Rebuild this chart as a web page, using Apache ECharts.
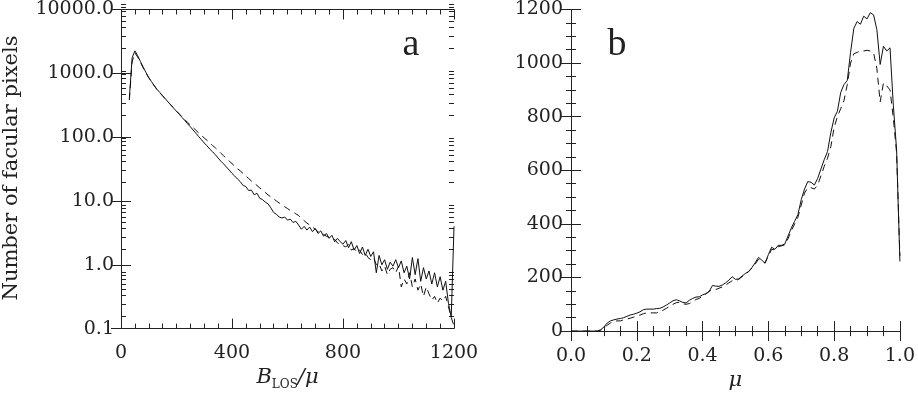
<!DOCTYPE html>
<html>
<head>
<meta charset="UTF-8">
<script src="https://cdn.jsdelivr.net/npm/echarts@6/dist/echarts.min.js"></script>
</head>
<body style="margin:0;background:#fff;">
<div id="chart" style="width:918px;height:396px;"></div>
<script>
// panel a: histogram of B_LOS/mu (log scale)
var bx = [30, 40, 50, 60, 70, 80, 90, 100, 110, 120,
    130, 140, 150, 160, 170, 180, 190, 200, 210, 220,
    230, 240, 250, 260, 270, 280, 290, 300, 310, 320,
    330, 340, 350, 360, 370, 380, 390, 400, 410, 420,
    430, 440, 450, 460, 470, 480, 490, 500, 510, 520,
    530, 540, 550, 560, 570, 580, 590, 600, 610, 620,
    630, 640, 650, 660, 670, 680, 690, 700, 710, 720,
    730, 740, 750, 760, 770, 780, 790, 800, 810, 820,
    830, 840, 850, 860, 870, 880, 890, 900, 910, 920,
    930, 940, 950, 960, 970, 980, 990, 1000, 1010, 1020,
    1030, 1040, 1050, 1060, 1070, 1080, 1090, 1100, 1110, 1120,
    1130, 1140, 1150, 1160, 1170, 1180, 1190, 1200];
var solidA = [400, 1750, 2250, 1900, 1530, 1250, 1030, 860, 740, 640,
    560, 500, 445, 398, 355, 318, 284, 254, 228, 204,
    182, 162, 145, 129, 115, 102, 91, 81, 73, 65,
    59, 53, 47, 42, 38, 34, 30.5, 27, 24.5, 22,
    20, 17.5, 16.8, 14.6, 14.8, 12.5, 13.2, 11.0, 10.5, 9.6,
    9.0, 7.8, 6.6, 6.2, 5.6, 5.4, 5.6, 5.0, 5.2, 4.6,
    4.8, 4.2, 3.6, 4.0, 3.5, 3.9, 3.3, 3.7, 3.1, 3.4,
    2.8, 3.1, 2.6, 2.9, 2.3, 2.6, 2.3, 2.1, 2.4, 1.85,
    2.3, 1.7, 2.0, 1.5, 1.9, 1.4, 1.75, 1.35, 1.6, 0.75,
    1.4, 1.0, 1.2, 0.85, 1.1, 0.95, 1.2, 0.9, 1.15, 0.75,
    0.95, 0.6, 1.3, 0.7, 1.25, 0.55, 0.9, 0.6, 0.8, 0.5,
    0.75, 0.45, 0.65, 0.4, 0.55, 0.25, 0.15, 4.0];
var dashedA = [380, 1500, 2100, 1800, 1480, 1220, 1010, 850, 730, 635,
    555, 495, 442, 396, 354, 318, 285, 256, 231, 208,
    188, 170, 155, 141, 128, 116, 106, 97, 89, 81,
    74, 68, 62, 56, 51, 46, 42, 38.5, 35, 32,
    29.5, 27, 24.5, 22.5, 20.5, 19, 17.5, 16, 14.8, 13.6,
    12.4, 11.6, 10.8, 10.0, 9.3, 8.7, 8.1, 7.6, 7.1, 6.7,
    6.3, 5.9, 5.4, 4.9, 4.5, 4.2, 3.9, 3.6, 3.3, 3.2,
    3.0, 2.8, 2.7, 2.5, 2.5, 2.2, 2.1, 2.0, 1.9, 2.1,
    1.7, 1.8, 1.55, 1.7, 1.45, 1.55, 1.3, 1.2, 1.3, 1.0,
    1.05, 0.8, 0.95, 0.7, 0.85, 0.9, 0.75, 0.95, 0.45, 0.6,
    0.5, 0.75, 0.45, 0.6, 0.4, 0.5, 0.32, 0.45, 0.35, 0.28,
    0.32, 0.25, 0.3, 0.27, 0.32, 0.22, 0.15, 0.11];
var logMinor = [0.2, 0.3, 0.4, 0.5, 0.6, 0.7, 0.8, 0.9,
    2, 3, 4, 5, 6, 7, 8, 9,
    20, 30, 40, 50, 60, 70, 80, 90,
    200, 300, 400, 500, 600, 700, 800, 900,
    2000, 3000, 4000, 5000, 6000, 7000, 8000, 9000];

// panel b: distribution over mu
var mu = [0.00, 0.01, 0.02, 0.03, 0.04, 0.05, 0.06, 0.07, 0.08, 0.09,
    0.10, 0.11, 0.12, 0.13, 0.14, 0.15, 0.16, 0.17, 0.18, 0.19,
    0.20, 0.21, 0.22, 0.23, 0.24, 0.25, 0.26, 0.27, 0.28, 0.29,
    0.30, 0.31, 0.32, 0.33, 0.34, 0.35, 0.36, 0.37, 0.38, 0.39,
    0.40, 0.41, 0.42, 0.43, 0.44, 0.45, 0.46, 0.47, 0.48, 0.49,
    0.50, 0.51, 0.52, 0.53, 0.54, 0.55, 0.56, 0.57, 0.58, 0.59,
    0.60, 0.61, 0.62, 0.63, 0.64, 0.65, 0.66, 0.67, 0.68, 0.69,
    0.70, 0.71, 0.72, 0.73, 0.74, 0.75, 0.76, 0.77, 0.78, 0.79,
    0.80, 0.81, 0.82, 0.83, 0.84, 0.85, 0.86, 0.87, 0.88, 0.89,
    0.90, 0.91, 0.92, 0.93, 0.94, 0.95, 0.96, 0.97, 0.98, 0.99,
    1.00];
var solidB = [0, 0, 0, 0, 0, 0, 0, 0, 0, 5,
    15, 30, 38, 42, 45, 47, 50, 55, 60, 63,
    67, 72, 80, 82, 82, 82, 84, 85, 90, 97,
    105, 113, 117, 113, 107, 105, 115, 122, 127, 128,
    135, 140, 148, 170, 168, 167, 172, 180, 190, 203,
    193, 195, 205, 215, 222, 237, 255, 275, 265, 253,
    285, 313, 305, 320, 320, 325, 355, 385, 410, 435,
    490, 530, 558, 555, 545, 570, 605, 640, 670, 740,
    795, 820, 890, 920, 935, 1040, 1130, 1155, 1145, 1175,
    1165, 1188, 1180, 1125, 995, 1063, 1045, 1057, 843, 676,
    260];
var dashedB = [0, 0, 0, 0, 0, 0, 0, 0, 0, 3,
    10, 22, 30, 36, 38, 38, 42, 45, 48, 52,
    55, 60, 65, 68, 68, 68, 68, 72, 78, 85,
    92, 100, 106, 108, 102, 100, 103, 110, 118, 122,
    130, 138, 148, 155, 155, 160, 165, 172, 180, 188,
    188, 193, 203, 212, 222, 235, 250, 268, 262, 255,
    280, 305, 303, 315, 318, 322, 345, 375, 400, 425,
    470, 515, 535, 535, 530, 545, 580, 615, 645, 688,
    760, 800, 830, 860, 920, 1000, 1035, 1040, 1045, 1045,
    1048, 1045, 1038, 980, 855, 926, 915, 900, 795, 664,
    280];

function pairs(xs, ys) {
    var out = [];
    for (var i = 0; i < xs.length; i++) out.push([xs[i], ys[i]]);
    return out;
}

var ink = '#222';
var font = 'DejaVu Serif';
var lbl = {color: ink, fontFamily: font, fontSize: 19};

function xAx(grid, pos, min, max, step, minorSplit, show, fmt) {
    return {
        type: 'value', gridIndex: grid, position: pos, min: min, max: max, interval: step,
        axisLine: {show: true, lineStyle: {color: ink, width: 1}},
        axisTick: {show: true, inside: true, length: 10, lineStyle: {color: ink}},
        minorTick: {show: true, splitNumber: minorSplit, length: 5, lineStyle: {color: ink}},
        splitLine: {show: false},
        axisLabel: Object.assign({show: show, margin: 15, formatter: fmt}, lbl)
    };
}

var nameRich = {
    b: {fontFamily: font, fontStyle: 'italic', fontSize: 21, color: ink, lineHeight: 26},
    s: {fontFamily: font, fontSize: 12, color: ink, lineHeight: 26, verticalAlign: 'bottom'},
    n: {fontFamily: font, fontStyle: 'italic', fontSize: 21, color: ink, lineHeight: 26}
};

var xa = xAx(0, 'bottom', 0, 1200, 400, 8, true, function (v) { return String(v); });
xa.name = '{b|B}{s|LOS}{n|/μ}';
xa.nameLocation = 'middle';
xa.nameGap = 34;
xa.nameTextStyle = {rich: nameRich};
var xb = xAx(1, 'bottom', 0, 1, 0.2, 4, true, function (v) { return v.toFixed(1); });
xb.name = '{n|μ}';
xb.nameLocation = 'middle';
xb.nameGap = 34;
xb.nameTextStyle = {rich: nameRich};

function logAx(pos) {
    return {
        type: 'log', logBase: 10, gridIndex: 0, position: pos, min: 0.1, max: 10000,
        axisLine: {show: true, lineStyle: {color: ink, width: 1}},
        axisTick: {show: true, inside: true, length: 10, lineStyle: {color: ink}},
        splitLine: {show: false},
        axisLabel: Object.assign({show: pos === 'left', margin: 7,
            formatter: function (v) { return v.toFixed(1); }}, lbl)
    };
}

// minor ticks of the log axis: hidden overlay grid, decades shifted by +2
function minorLogAx(pos) {
    return {
        type: 'value', gridIndex: 2, position: pos, min: 1, max: 6,
        axisLine: {show: false},
        axisTick: {show: true, inside: true, length: 5, lineStyle: {color: ink},
            customValues: logMinor.map(function (v) { return Math.log10(v) + 2; })},
        axisLabel: {show: false},
        splitLine: {show: false}
    };
}

function linAx(pos, show) {
    return {
        type: 'value', gridIndex: 1, position: pos, min: 0, max: 1200, interval: 200,
        axisLine: {show: true, lineStyle: {color: ink, width: 1}},
        axisTick: {show: true, inside: true, length: 10, lineStyle: {color: ink}},
        minorTick: {show: true, splitNumber: 4, length: 5, lineStyle: {color: ink}},
        splitLine: {show: false},
        axisLabel: Object.assign({show: show, margin: 8,
            formatter: function (v) { return String(v); }}, lbl)
    };
}

var solidStyle = {color: '#111', width: 1};
var dashStyle = {color: '#111', width: 1, type: [7, 5]};

var option = {
    animation: false,
    backgroundColor: '#fff',
    grid: [
        {left: 121, top: 1, width: 333, height: 335},
        {left: 571, top: 1, width: 332, height: 335},
        {left: 121, top: 1, width: 333, height: 335}
    ],
    xAxis: [
        xa,
        xAx(0, 'top', 0, 1200, 400, 8, false),
        xb,
        xAx(1, 'top', 0, 1, 0.2, 4, false),
        {type: 'value', gridIndex: 2, show: false, min: 1, max: 2}
    ],
    yAxis: [
        logAx('left'),
        logAx('right'),
        linAx('left', true),
        linAx('right', false),
        minorLogAx('left'),
        minorLogAx('right')
    ],
    graphic: [
        {type: 'text', x: 12, y: 168, rotation: Math.PI / 2,
            style: {text: 'Number of facular pixels', fill: ink, font: '21px "DejaVu Serif"',
                textAlign: 'center', textVerticalAlign: 'middle'}},
        {type: 'text', x: 411, y: 45,
            style: {text: 'a', fill: ink, font: '38px "Liberation Serif"',
                textAlign: 'center', textVerticalAlign: 'middle'}},
        {type: 'text', x: 617, y: 45,
            style: {text: 'b', fill: ink, font: '38px "Liberation Serif"',
                textAlign: 'center', textVerticalAlign: 'middle'}}
    ],
    series: [
        {type: 'line', xAxisIndex: 0, yAxisIndex: 0, data: pairs(bx, solidA), showSymbol: false, symbol: 'none', lineStyle: solidStyle},
        {type: 'line', xAxisIndex: 0, yAxisIndex: 0, data: pairs(bx, dashedA), showSymbol: false, symbol: 'none', lineStyle: dashStyle},
        {type: 'line', xAxisIndex: 2, yAxisIndex: 2, data: pairs(mu, solidB), showSymbol: false, symbol: 'none', lineStyle: solidStyle},
        {type: 'line', xAxisIndex: 2, yAxisIndex: 2, data: pairs(mu, dashedB), showSymbol: false, symbol: 'none', lineStyle: dashStyle}
    ]
};

var chart = echarts.init(document.getElementById('chart'));
chart.setOption(option);
</script>
</body>
</html>
